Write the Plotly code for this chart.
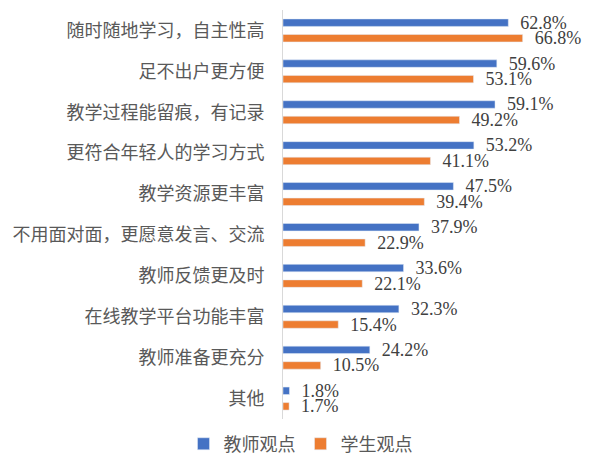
import plotly.graph_objects as go

# categories, top to bottom
categories = [
    "随时随地学习，自主性高",
    "足不出户更方便",
    "教学过程能留痕，有记录",
    "更符合年轻人的学习方式",
    "教学资源更丰富",
    "不用面对面，更愿意发言、交流",
    "教师反馈更及时",
    "在线教学平台功能丰富",
    "教师准备更充分",
    "其他",
]
teacher_pct = [62.8, 59.6, 59.1, 53.2, 47.5, 37.9, 33.6, 32.3, 24.2, 1.8]
student_pct = [66.8, 53.1, 49.2, 41.1, 39.4, 22.9, 22.1, 15.4, 10.5, 1.7]

value_font = dict(family="Liberation Serif, Times New Roman, serif", size=18, color="#404040")
cjk_font = dict(family="Noto Sans CJK SC", size=18, color="#595959")

fig = go.Figure()
for name, vals, color in [("教师观点", teacher_pct, "#4472C4"),
                          ("学生观点", student_pct, "#ED7D31")]:
    fig.add_trace(go.Bar(
        name=name,
        y=categories,
        x=vals,
        orientation="h",
        marker_color=color,
        text=[f"{v:.1f}%" for v in vals],
        # non-breaking spaces keep a small gap between bar end and label
        texttemplate="\u00a0\u00a0%{text}",
        textposition="outside",
        constraintext="none",
        textfont=value_font,
        cliponaxis=False,
    ))

# the page body adds an 8px margin, so the figure is 8px smaller each way
fig.update_layout(
    width=585,
    height=459,
    barmode="group",
    bargap=0.24,
    bargroupgap=0.52,
    margin=dict(l=275, r=23, t=2, b=48, autoexpand=False),
    paper_bgcolor="white",
    plot_bgcolor="white",
    font=cjk_font,
    showlegend=True,
    legend=dict(
        orientation="h",
        x=0.5, xanchor="center", xref="container",
        y=0.05, yanchor="middle", yref="container",
        font=cjk_font,
        itemwidth=30,
    ),
    xaxis=dict(visible=False, range=[0, 80]),
    yaxis=dict(
        autorange="reversed",
        showline=True,
        linecolor="#d9d9d9",
        linewidth=1,
        showgrid=False,
        ticks="",
        ticklabelstandoff=14,
        tickfont=cjk_font,
    ),
)

fig.write_html("out.html")
